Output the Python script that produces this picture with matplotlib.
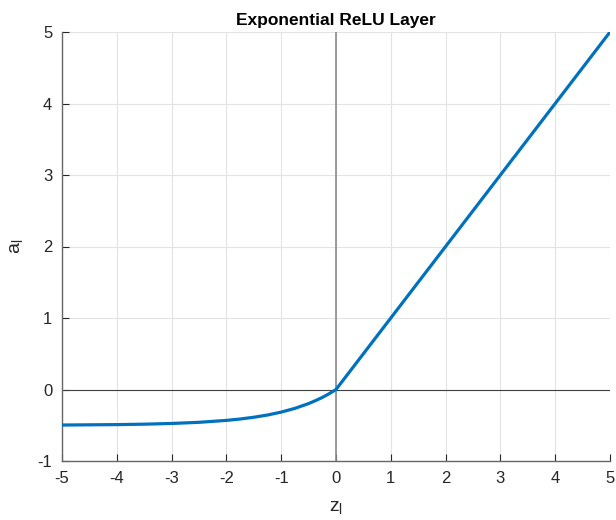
import matplotlib.pyplot as plt

plt.rcParams['font.family'] = ['Liberation Sans', 'DejaVu Sans']
plt.rcParams['axes.unicode_minus'] = False

# ELU activation samples (alpha = 0.5)
z = [-5.0, -4.5, -4.0, -3.5, -3.0, -2.5, -2.0, -1.75, -1.5, -1.25,
     -1.0, -0.75, -0.5, -0.375, -0.25, -0.125, 0.0, 5.0]
a = [-0.497, -0.494, -0.491, -0.485, -0.475, -0.459, -0.432, -0.413,
     -0.388, -0.357, -0.316, -0.264, -0.197, -0.156, -0.111, -0.059,
     0.0, 5.0]

xticks = [-5, -4, -3, -2, -1, 0, 1, 2, 3, 4, 5]
yticks = [-1, 0, 1, 2, 3, 4, 5]

fig = plt.figure(figsize=(6.16, 5.2), dpi=100)
ax = fig.add_axes([62 / 616, 59 / 520, 548 / 616, 429 / 520])

ax.axhline(0, color="#404040", lw=0.8, zorder=1)
ax.axvline(0, color="#8c8c8c", lw=1.2, zorder=1)
ax.plot(z, a, color="#0072BD", lw=2.3, zorder=3, solid_capstyle="butt")

ax.set_xlim(-5, 5)
ax.set_ylim(-1, 5)
ax.set_xticks(xticks)
ax.set_yticks(yticks)
ax.grid(True, color="#e3e3e3", lw=0.8)
ax.set_axisbelow(True)

for side in ("top", "right"):
    ax.spines[side].set_visible(False)
for side in ("left", "bottom"):
    ax.spines[side].set_color("#666666")
    ax.spines[side].set_linewidth(1.0)

ax.tick_params(direction="in", length=5, width=0.8, color="#262626",
               labelsize=12, labelcolor="#262626", pad=7)

ax.set_title("Exponential ReLU Layer", fontsize=12.5, fontweight="bold", pad=5)
ax.set_xlabel(r"z$_\mathregular{l}$", fontsize=14, color="#262626", labelpad=10)
ax.set_ylabel(r"a$_\mathregular{l}$", fontsize=14, color="#262626", labelpad=8)

plt.savefig("out.png", dpi=100)
plt.close()
